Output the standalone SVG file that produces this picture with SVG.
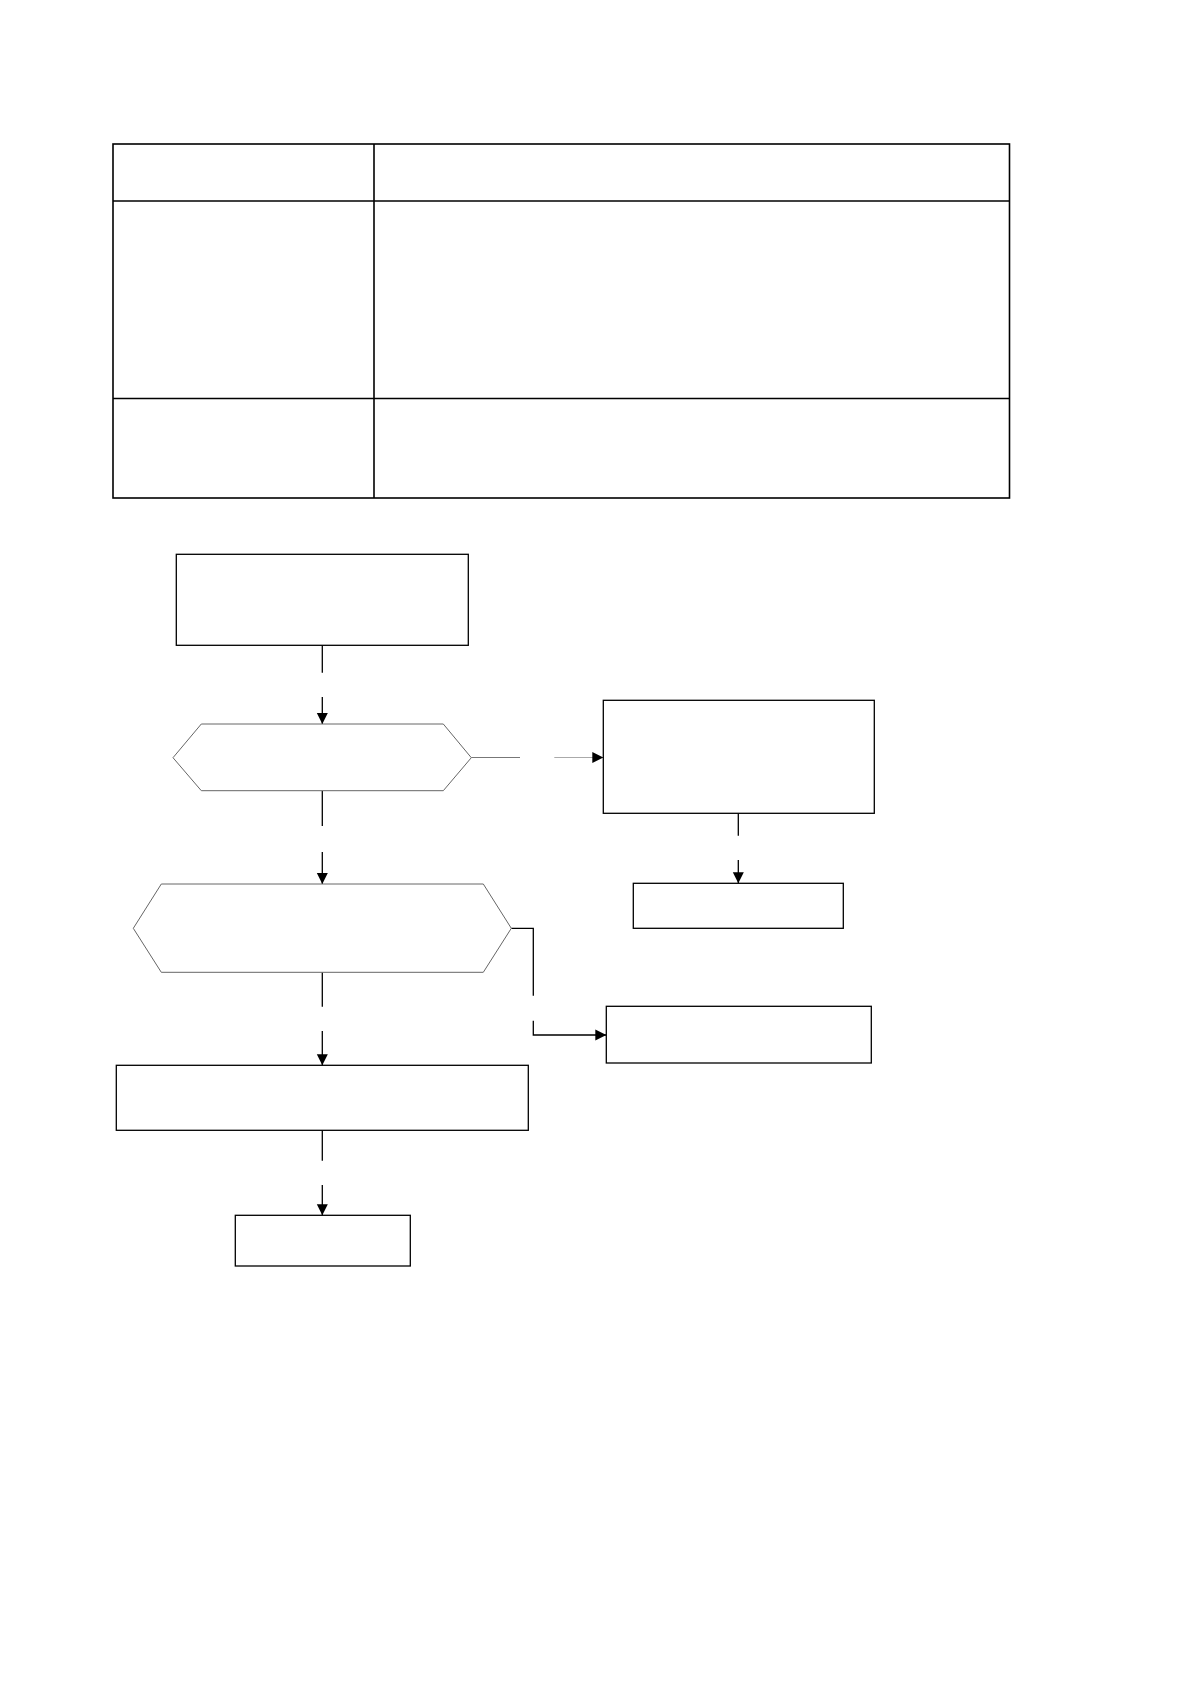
<svg xmlns="http://www.w3.org/2000/svg" width="1191" height="1684" viewBox="0 0 1191 1684">
<style>
.cell{fill:none;stroke:#000;stroke-width:1.6}
.box{fill:#fff;stroke:#000;stroke-width:1.3}
.hex{fill:#fff;stroke:#666;stroke-width:1}
.ln{fill:none;stroke:#000;stroke-width:1.3}
.gl{fill:none;stroke:#777;stroke-width:1}
.gl2{fill:none;stroke:#aaa;stroke-width:1}
</style>
<defs>
<marker id="ah" markerUnits="userSpaceOnUse" markerWidth="12" markerHeight="12" viewBox="0 0 12 12" refX="11" refY="6" orient="auto">
<path d="M0,0.5 L11,6 L0,11.5 Z" fill="#000"/>
</marker>
</defs>
<rect width="1191" height="1684" fill="#fff"/>
<g id="table">
<rect class="cell" x="113" y="144" width="896.5" height="354"/>
<line class="cell" x1="374" y1="144" x2="374" y2="498"/>
<line class="cell" x1="113" y1="201" x2="1009.5" y2="201"/>
<line class="cell" x1="113" y1="398.5" x2="1009.5" y2="398.5"/>
</g>
<g id="connectors">
<line class="ln" x1="322.3" y1="645.3" x2="322.3" y2="672.7"/>
<line class="ln" x1="322.3" y1="697" x2="322.3" y2="724" marker-end="url(#ah)"/>
<line class="ln" x1="322.3" y1="790.7" x2="322.3" y2="826"/>
<line class="ln" x1="322.3" y1="852" x2="322.3" y2="884" marker-end="url(#ah)"/>
<line class="gl" x1="471.3" y1="757.5" x2="520" y2="757.5"/>
<line class="gl2" x1="554.3" y1="757.5" x2="603.3" y2="757.5" marker-end="url(#ah)"/>
<line class="ln" x1="738.3" y1="813.3" x2="738.3" y2="835.7"/>
<line class="ln" x1="738.3" y1="860" x2="738.3" y2="883.3" marker-end="url(#ah)"/>
<line class="ln" x1="322.3" y1="972.3" x2="322.3" y2="1006.7"/>
<line class="ln" x1="322.3" y1="1031" x2="322.3" y2="1065.3" marker-end="url(#ah)"/>
<polyline class="ln" points="511.3,928.3 533.3,928.3 533.3,995.7"/>
<polyline class="ln" points="533.3,1020.7 533.3,1035 606.3,1035" marker-end="url(#ah)"/>
<line class="ln" x1="322.3" y1="1130.3" x2="322.3" y2="1160.7"/>
<line class="ln" x1="322.3" y1="1185" x2="322.3" y2="1215.3" marker-end="url(#ah)"/>
</g>
<g id="box1"><rect class="box" x="176.3" y="554.3" width="292" height="91"/></g>
<g id="hex1"><polygon class="hex" points="173,757.7 201.3,724 443.3,724 471.3,757.7 443.3,790.7 201.3,790.7"/></g>
<g id="box2"><rect class="box" x="603.3" y="700.3" width="271" height="113"/></g>
<g id="box3"><rect class="box" x="633.3" y="883.3" width="210" height="45"/></g>
<g id="hex2"><polygon class="hex" points="133.3,928.3 161.3,884 483.3,884 511.3,928.3 483.3,972.3 161.3,972.3"/></g>
<g id="box4"><rect class="box" x="606.3" y="1006.3" width="265" height="56.7"/></g>
<g id="box5"><rect class="box" x="116.3" y="1065.3" width="412" height="65"/></g>
<g id="box6"><rect class="box" x="235.3" y="1215.3" width="175" height="50.7"/></g>
</svg>
